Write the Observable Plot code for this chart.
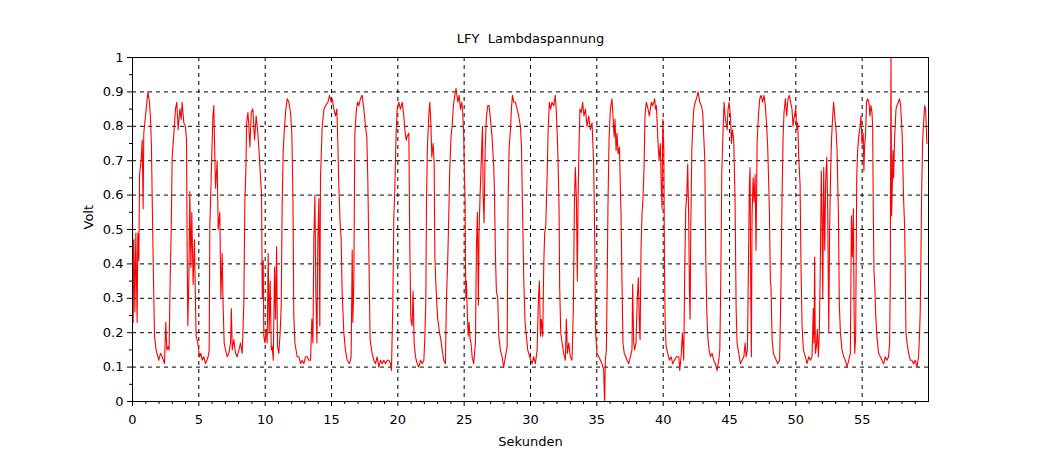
<!DOCTYPE html>
<html><head><meta charset="utf-8">
<script src="https://cdn.jsdelivr.net/npm/d3@7"></script>
<script src="https://cdn.jsdelivr.net/npm/@observablehq/plot@0.6"></script>
<style>body{margin:0;background:#fff} svg text{white-space:pre}</style>
</head><body><div id="chart"></div>
<script>
const title = "LFY  Lambdaspannung";
const xLabel = "Sekunden";
const yLabel = "Volt";
const xTicks = [0,5,10,15,20,25,30,35,40,45,50,55];
const xGrid = [5,10,15,20,25,30,35,40,45,50,55];
const xMinorTicks = [1,2,3,4,6,7,8,9,11,12,13,14,16,17,18,19,21,22,23,24,26,27,28,29,31,32,33,34,36,37,38,39,41,42,43,44,46,47,48,49,51,52,53,54,56,57,58,59];
const yTicks = [0,0.1,0.2,0.3,0.4,0.5,0.6,0.7,0.8,0.9,1];
const yTickLabels = ["0","0.1","0.2","0.3","0.4","0.5","0.6","0.7","0.8","0.9","1"];
const yGrid = [0.1,0.2,0.3,0.4,0.5,0.6,0.7,0.8,0.9];
const yMinorTicks = [0.05,0.15,0.25,0.35,0.45,0.55,0.65,0.75,0.85,0.95];

// [Sekunden, Volt]
const s00_10 = [[0.00,0.56],[0.05,0.23],[0.10,0.47],[0.18,0.26],[0.25,0.49],[0.35,0.23],[0.40,0.49],[0.48,0.41],[0.53,0.66],[0.65,0.70],[0.73,0.76],[0.80,0.56],[0.85,0.78],[1.03,0.85],[1.16,0.90],[1.28,0.87],[1.36,0.82],[1.43,0.74],[1.48,0.60],[1.58,0.36],[1.66,0.19],[1.78,0.15],[1.98,0.12],[2.11,0.14],[2.24,0.13],[2.41,0.11],[2.51,0.23],[2.59,0.15],[2.69,0.16],[2.76,0.15],[2.84,0.36],[2.91,0.48],[2.99,0.71],[3.12,0.78],[3.24,0.85],[3.34,0.87],[3.44,0.79],[3.57,0.85],[3.67,0.82],[3.74,0.87],[3.87,0.81],[3.99,0.80],[4.07,0.76],[4.12,0.44],[4.17,0.22],[4.25,0.36],[4.32,0.61],[4.40,0.39],[4.47,0.55],[4.57,0.34],[4.67,0.47],[4.75,0.28],[4.80,0.19],[4.92,0.17],[5.05,0.13],[5.15,0.14],[5.25,0.12],[5.38,0.13],[5.50,0.11],[5.60,0.12],[5.70,0.13],[5.78,0.15],[5.83,0.51],[5.93,0.65],[6.06,0.83],[6.13,0.86],[6.18,0.76],[6.26,0.62],[6.38,0.70],[6.46,0.50],[6.58,0.55],[6.66,0.30],[6.76,0.43],[6.83,0.28],[6.91,0.17],[7.01,0.15],[7.14,0.13],[7.26,0.14],[7.39,0.17],[7.45,0.27],[7.52,0.15],[7.64,0.18],[7.77,0.14],[7.89,0.13],[8.02,0.15],[8.14,0.17],[8.27,0.14],[8.39,0.28],[8.47,0.58],[8.55,0.68],[8.60,0.81],[8.70,0.84],[8.77,0.80],[8.85,0.74],[8.95,0.84],[9.07,0.85],[9.20,0.76],[9.32,0.83],[9.45,0.78],[9.55,0.72],[9.65,0.65],[9.73,0.60],[9.78,0.30],[9.85,0.41],[9.90,0.19],[9.98,0.17]];
const s10_20 = [[10.08,0.21],[10.15,0.17],[10.23,0.43],[10.30,0.20],[10.38,0.35],[10.46,0.15],[10.53,0.16],[10.61,0.12],[10.71,0.39],[10.78,0.24],[10.86,0.45],[10.93,0.16],[11.03,0.14],[11.13,0.20],[11.21,0.28],[11.28,0.57],[11.36,0.73],[11.46,0.80],[11.56,0.85],[11.66,0.88],[11.79,0.87],[11.91,0.84],[12.01,0.78],[12.09,0.60],[12.16,0.25],[12.24,0.17],[12.41,0.13],[12.54,0.13],[12.67,0.11],[12.79,0.12],[12.92,0.11],[13.04,0.13],[13.17,0.13],[13.29,0.12],[13.42,0.12],[13.52,0.24],[13.60,0.17],[13.67,0.47],[13.75,0.60],[13.82,0.32],[13.90,0.17],[13.97,0.47],[14.05,0.59],[14.12,0.22],[14.17,0.65],[14.30,0.80],[14.43,0.85],[14.55,0.86],[14.73,0.87],[14.85,0.89],[14.98,0.87],[15.05,0.88],[15.18,0.85],[15.30,0.83],[15.40,0.85],[15.48,0.75],[15.55,0.63],[15.65,0.52],[15.73,0.47],[15.80,0.32],[15.93,0.20],[16.05,0.15],[16.18,0.12],[16.36,0.11],[16.48,0.13],[16.56,0.44],[16.61,0.23],[16.68,0.34],[16.76,0.78],[16.86,0.84],[16.96,0.87],[17.06,0.86],[17.18,0.88],[17.31,0.89],[17.44,0.85],[17.56,0.80],[17.66,0.77],[17.74,0.64],[17.81,0.45],[17.91,0.18],[18.06,0.14],[18.19,0.12],[18.32,0.11],[18.44,0.13],[18.57,0.10],[18.69,0.12],[18.82,0.11],[18.94,0.12],[19.07,0.11],[19.19,0.12],[19.32,0.12],[19.45,0.11],[19.52,0.09],[19.62,0.28],[19.70,0.54],[19.77,0.61],[19.87,0.78],[19.95,0.85]];
const s20_30 = [[20.07,0.87],[20.20,0.85],[20.33,0.87],[20.45,0.83],[20.53,0.79],[20.63,0.76],[20.70,0.77],[20.83,0.78],[20.90,0.46],[20.98,0.24],[21.08,0.22],[21.15,0.32],[21.23,0.17],[21.33,0.13],[21.46,0.11],[21.58,0.10],[21.71,0.12],[21.83,0.11],[21.96,0.12],[22.03,0.18],[22.11,0.29],[22.16,0.58],[22.23,0.74],[22.33,0.83],[22.41,0.87],[22.49,0.81],[22.56,0.71],[22.66,0.75],[22.74,0.69],[22.79,0.42],[22.86,0.35],[22.94,0.28],[23.01,0.24],[23.14,0.20],[23.24,0.18],[23.34,0.15],[23.46,0.12],[23.59,0.11],[23.66,0.29],[23.76,0.41],[23.84,0.54],[23.91,0.67],[24.01,0.77],[24.11,0.81],[24.19,0.86],[24.29,0.89],[24.39,0.91],[24.52,0.87],[24.62,0.89],[24.72,0.85],[24.82,0.87],[24.89,0.84],[24.97,0.77],[25.02,0.66],[25.07,0.58],[25.12,0.30],[25.17,0.35],[25.22,0.28],[25.30,0.19],[25.37,0.23],[25.45,0.18],[25.52,0.17],[25.60,0.13],[25.72,0.11],[25.85,0.17],[25.92,0.44],[26.00,0.55],[26.07,0.28],[26.12,0.49],[26.20,0.60],[26.28,0.69],[26.38,0.80],[26.43,0.60],[26.50,0.52],[26.58,0.73],[26.68,0.83],[26.78,0.86],[26.88,0.86],[26.98,0.82],[27.10,0.77],[27.23,0.68],[27.28,0.61],[27.36,0.42],[27.43,0.32],[27.53,0.30],[27.61,0.19],[27.73,0.15],[27.86,0.13],[27.98,0.10],[28.11,0.13],[28.24,0.16],[28.31,0.58],[28.39,0.74],[28.49,0.79],[28.56,0.85],[28.64,0.89],[28.74,0.87],[28.86,0.87],[28.99,0.85],[29.11,0.83],[29.24,0.80],[29.32,0.74],[29.39,0.58],[29.49,0.36],[29.59,0.23],[29.69,0.19],[29.79,0.15],[29.94,0.13]];
const s30_40 = [[30.12,0.11],[30.24,0.13],[30.37,0.11],[30.50,0.15],[30.60,0.30],[30.67,0.35],[30.75,0.19],[30.82,0.24],[30.92,0.19],[31.00,0.40],[31.07,0.49],[31.15,0.51],[31.25,0.65],[31.33,0.79],[31.42,0.87],[31.52,0.85],[31.62,0.87],[31.75,0.86],[31.87,0.89],[31.95,0.84],[32.02,0.77],[32.07,0.71],[32.15,0.57],[32.20,0.33],[32.28,0.20],[32.38,0.17],[32.50,0.14],[32.63,0.12],[32.70,0.24],[32.78,0.14],[32.88,0.17],[33.00,0.13],[33.13,0.12],[33.23,0.27],[33.31,0.58],[33.38,0.68],[33.46,0.59],[33.53,0.35],[33.58,0.57],[33.66,0.75],[33.73,0.85],[33.83,0.84],[33.93,0.87],[34.03,0.83],[34.14,0.85],[34.26,0.80],[34.39,0.83],[34.51,0.79],[34.64,0.81],[34.76,0.69],[34.84,0.48],[34.91,0.20],[35.01,0.14],[35.14,0.13],[35.27,0.12],[35.39,0.11],[35.52,0.09],[35.57,0.01],[35.59,0.00],[35.64,0.12],[35.72,0.15],[35.77,0.31],[35.84,0.57],[35.92,0.76],[36.02,0.85],[36.14,0.88],[36.22,0.83],[36.30,0.77],[36.37,0.82],[36.45,0.73],[36.52,0.78],[36.60,0.72],[36.70,0.74],[36.82,0.55],[36.90,0.34],[36.97,0.17],[37.07,0.14],[37.18,0.13],[37.28,0.12],[37.40,0.11],[37.53,0.13],[37.65,0.15],[37.70,0.34],[37.78,0.17],[37.85,0.15],[37.95,0.17],[38.05,0.30],[38.13,0.36],[38.21,0.22],[38.26,0.18],[38.33,0.44],[38.41,0.55],[38.48,0.59],[38.56,0.68],[38.63,0.83],[38.73,0.87],[38.86,0.85],[38.96,0.83],[39.11,0.87],[39.21,0.86],[39.36,0.88],[39.42,0.85],[39.49,0.86],[39.59,0.77],[39.69,0.70],[39.79,0.75],[39.84,0.65],[39.92,0.56],[39.97,0.82]];
const s40_50 = [[40.05,0.73],[40.10,0.39],[40.15,0.23],[40.22,0.16],[40.35,0.14],[40.47,0.12],[40.60,0.13],[40.72,0.11],[40.85,0.12],[41.00,0.13],[41.18,0.13],[41.25,0.09],[41.35,0.13],[41.45,0.20],[41.55,0.12],[41.63,0.39],[41.70,0.56],[41.78,0.60],[41.85,0.69],[41.93,0.52],[41.98,0.32],[42.03,0.24],[42.08,0.50],[42.16,0.73],[42.23,0.80],[42.31,0.85],[42.41,0.87],[42.51,0.88],[42.63,0.90],[42.76,0.87],[42.88,0.86],[42.98,0.84],[43.06,0.77],[43.14,0.70],[43.21,0.42],[43.29,0.26],[43.36,0.19],[43.46,0.15],[43.56,0.13],[43.69,0.14],[43.81,0.12],[43.94,0.11],[44.06,0.09],[44.19,0.12],[44.27,0.15],[44.34,0.34],[44.42,0.67],[44.52,0.79],[44.59,0.87],[44.69,0.82],[44.82,0.79],[44.89,0.85],[44.97,0.87],[45.07,0.83],[45.15,0.75],[45.22,0.79],[45.32,0.76],[45.42,0.58],[45.50,0.27],[45.57,0.17],[45.70,0.14],[45.82,0.11],[45.95,0.12],[46.08,0.13],[46.18,0.17],[46.25,0.13],[46.35,0.15],[46.43,0.40],[46.50,0.63],[46.55,0.68],[46.60,0.34],[46.65,0.13],[46.70,0.54],[46.78,0.65],[46.85,0.58],[46.93,0.66],[47.00,0.44],[47.08,0.75],[47.18,0.83],[47.28,0.88],[47.38,0.89],[47.50,0.87],[47.60,0.89],[47.70,0.86],[47.80,0.80],[47.88,0.74],[47.93,0.67],[48.01,0.55],[48.08,0.35],[48.13,0.33],[48.21,0.18],[48.31,0.14],[48.41,0.13],[48.53,0.12],[48.63,0.11],[48.78,0.12],[48.88,0.34],[48.96,0.59],[49.04,0.77],[49.11,0.84],[49.21,0.88],[49.31,0.83],[49.41,0.88],[49.51,0.89],[49.61,0.87],[49.71,0.85],[49.79,0.80],[49.89,0.83],[49.99,0.85]];
const s50_60 = [[50.07,0.79],[50.14,0.81],[50.22,0.71],[50.32,0.63],[50.39,0.39],[50.47,0.22],[50.57,0.15],[50.72,0.13],[50.84,0.11],[50.97,0.13],[51.10,0.12],[51.22,0.13],[51.32,0.27],[51.37,0.17],[51.42,0.42],[51.47,0.14],[51.55,0.16],[51.62,0.21],[51.70,0.13],[51.77,0.20],[51.85,0.41],[51.92,0.67],[51.98,0.52],[52.03,0.30],[52.10,0.68],[52.18,0.44],[52.25,0.64],[52.33,0.71],[52.40,0.57],[52.48,0.20],[52.55,0.51],[52.63,0.68],[52.70,0.77],[52.78,0.83],[52.85,0.87],[52.95,0.82],[53.03,0.79],[53.11,0.73],[53.21,0.54],[53.28,0.28],[53.36,0.20],[53.48,0.15],[53.61,0.13],[53.73,0.12],[53.86,0.10],[53.99,0.12],[54.11,0.14],[54.19,0.54],[54.26,0.42],[54.34,0.56],[54.39,0.26],[54.44,0.14],[54.51,0.19],[54.59,0.65],[54.66,0.73],[54.74,0.77],[54.84,0.80],[54.91,0.83],[54.99,0.75],[55.08,0.78],[55.13,0.67],[55.18,0.74],[55.26,0.78],[55.33,0.87],[55.41,0.88],[55.51,0.87],[55.59,0.83],[55.66,0.86],[55.74,0.84],[55.79,0.80],[55.84,0.55],[55.89,0.38],[55.96,0.33],[56.01,0.26],[56.11,0.19],[56.24,0.14],[56.37,0.13],[56.49,0.12],[56.62,0.11],[56.74,0.13],[56.87,0.12],[56.99,0.13],[57.07,0.17],[57.12,0.35],[57.17,1.00],[57.22,0.54],[57.27,0.62],[57.32,0.73],[57.37,0.65],[57.45,0.77],[57.55,0.85],[57.62,0.86],[57.72,0.87],[57.82,0.88],[57.90,0.86],[57.97,0.81],[58.02,0.77],[58.07,0.68],[58.12,0.59],[58.20,0.51],[58.25,0.38],[58.30,0.20],[58.38,0.17],[58.50,0.14],[58.63,0.12],[58.75,0.12],[58.88,0.11],[59.00,0.12],[59.13,0.10],[59.25,0.13],[59.33,0.20],[59.38,0.27],[59.43,0.42],[59.48,0.60],[59.56,0.76],[59.63,0.81],[59.71,0.86],[59.78,0.85],[59.83,0.80],[59.88,0.75]];

const signal = [...s00_10, ...s10_20, ...s20_30, ...s30_40, ...s40_50, ...s50_60]
  .map(([t, v]) => ({t, v}));

const dash = "4,4";
const chart = Plot.plot({
  width: 1060,
  height: 460,
  marginLeft: 132,
  marginRight: 132,
  marginTop: 57,
  marginBottom: 59,
  style: {fontFamily: "DejaVu Sans, sans-serif", fontSize: "13px", color: "#000", background: "#fff"},
  x: {domain: [0, 60], axis: null},
  y: {domain: [0, 1], axis: null},
  marks: [
    Plot.gridX(xGrid, {stroke: "#000", strokeOpacity: 1, strokeDasharray: dash}),
    Plot.gridY(yGrid, {stroke: "#000", strokeOpacity: 1, strokeDasharray: dash}),
    Plot.line(signal, {x: "t", y: "v", stroke: "#ff0000", strokeWidth: 1.1}),
    Plot.frame({stroke: "#000", strokeWidth: 1}),
    Plot.axisX(xTicks, {tickSize: 5, tickPadding: 8, label: null, fontSize: 13}),
    Plot.axisX(xMinorTicks, {tickSize: 3, tickFormat: () => "", label: null}),
    Plot.axisY(yTicks, {tickSize: 5, tickPadding: 4, label: null, fontSize: 13,
      tickFormat: d => yTickLabels[yTicks.indexOf(d)]}),
    Plot.axisY(yMinorTicks, {tickSize: 3, tickFormat: () => "", label: null}),
    Plot.text([title], {text: d => d, frameAnchor: "top", lineAnchor: "middle", dy: -19, fontSize: 13}),
    Plot.text([xLabel], {text: d => d, frameAnchor: "bottom", lineAnchor: "middle", dy: 40, fontSize: 13}),
    Plot.text([yLabel], {text: d => d, frameAnchor: "left", lineAnchor: "middle", dx: -44, rotate: -90, fontSize: 13})
  ]
});
document.getElementById("chart").appendChild(chart);
</script>
</body></html>
